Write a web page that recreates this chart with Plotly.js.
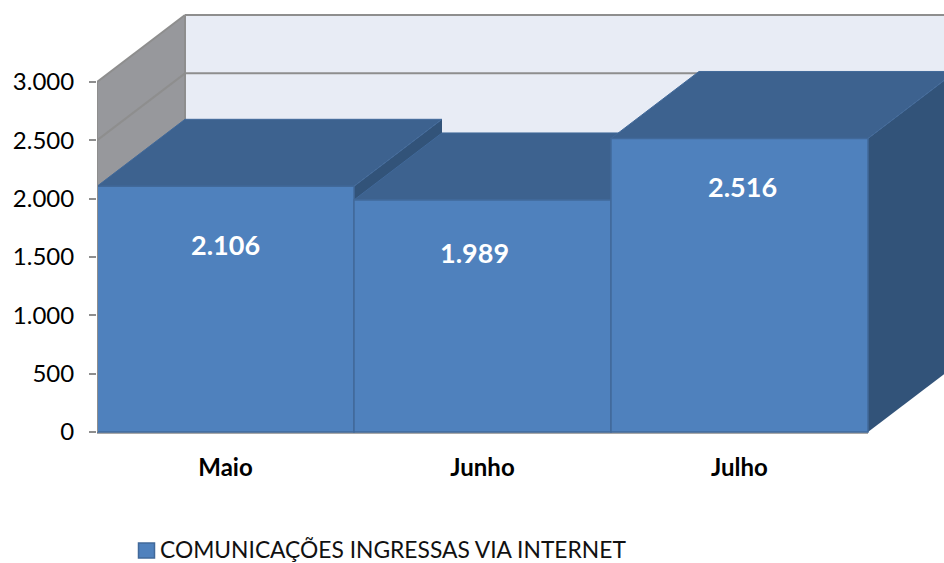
<!DOCTYPE html>
<html>
<head>
<meta charset="utf-8">
<script src="https://cdn.plot.ly/plotly-3.0.1.min.js"></script>
<style>html,body{margin:0;padding:0;background:#fff}#chart{width:944px;height:563px}</style>
</head>
<body>
<div id="chart"></div>
<script>
const categories = ["Maio", "Junho", "Julho"];
const values = [2106, 1989, 2516];
const seriesName = "COMUNICAÇÕES INGRESSAS VIA INTERNET";
const yTickVals = [0, 500, 1000, 1500, 2000, 2500, 3000];
const yTickText = ["0", "500", "1.000", "1.500", "2.000", "2.500", "3.000"];
const valueLabels = ["2.106", "1.989", "2.516"];
const labelShiftX = [0, -8, 3];
const labelShiftY = [-58, -53, -48];
const wallGridVals = [2500, 3000];

const pxPerUnit = 350 / 3000;
const depthX = 88 / 257, depthY = 67 / pxPerUnit;
const xL = -0.5, xR = categories.length - 0.5, yMax = 3000;
const yMin = -4 / pxPerUnit;
const plotH = 436;
const C = {front:"#4f81bd", edge:"#41699a", top:"#3d628f", side:"#325379", wall:"#97989c", back:"#e8ecf5", grid:"#8e8e8e"};
const FONT = "Lato, Carlito, 'Open Sans', sans-serif";
const px = v => (v - 97) / 847, py = v => (plotH - v) / plotH;

function poly(pts, fill, line) {
  return {type:"path", xref:"x", yref:"y", layer:"below",
    path: "M" + pts.map(p => p[0] + "," + p[1]).join("L") + "Z",
    fillcolor: fill, line: line ? {color: line, width: 1} : {width: 0}};
}
function seg(x0, y0, x1, y1, w) {
  return {type:"line", xref:"x", yref:"y", layer:"below", x0, y0, x1, y1, line:{color:C.grid, width:w || 2}};
}
function barFaces(i) {
  const l = i - 0.5, r = i + 0.5, v = values[i];
  return [
    poly([[r,0],[r,v],[r+depthX,v+depthY],[r+depthX,depthY]], C.side),
    poly([[l,v],[r,v],[r+depthX,v+depthY],[l+depthX,v+depthY]], C.top, C.edge)
  ];
}
const shapes = [
  poly([[xL+depthX,depthY],[xR+depthX,depthY],[xR+depthX,yMax+depthY],[xL+depthX,yMax+depthY]], C.back),
  poly([[xL,0],[xL,yMax],[xL+depthX,yMax+depthY],[xL+depthX,depthY]], C.wall),
  seg(xL+depthX, depthY, xL+depthX, yMax+depthY)
];
wallGridVals.forEach(v => {
  shapes.push(seg(xL, v, xL+depthX, v+depthY));
  shapes.push(seg(xL+depthX, v+depthY, xR+depthX, v+depthY));
});
[0, 1, 2].forEach(i => shapes.push(...barFaces(i)));
shapes.push({type:"line", xref:"x", yref:"y", layer:"above", x0:xL, x1:xL, y0:0, y1:yMax, line:{color:C.grid, width:2}});
shapes.push({type:"line", xref:"x", yref:"y", layer:"below", x0:xL, x1:xR, y0:-1/pxPerUnit, y1:-1/pxPerUnit, line:{color:"#a8a8a8", width:2}});
// legend key
shapes.push({type:"rect", xref:"paper", yref:"paper", x0:px(138.5), x1:px(154.5), y0:py(558), y1:py(543), fillcolor:C.front, line:{color:C.edge, width:1.5}});

const trace = {
  type:"bar", x:categories.map((c,i)=>i), y:values, width:1, name:seriesName,
  marker:{color:C.front, line:{color:C.edge, width:1.5}}, cliponaxis:false,
  hoverinfo:"x+y"
};
const annotations = values.map((v,i)=>({x:i, y:v, xshift:labelShiftX[i], yshift:labelShiftY[i], xref:"x", yref:"y",
  text:"<b>"+valueLabels[i]+"</b>", showarrow:false, font:{family:FONT, size:27, color:"#fff"}}));
annotations.push({xref:"paper", yref:"paper", x:px(158), y:py(549), xanchor:"left", yanchor:"middle", text:seriesName, showarrow:false,
  font:{family:FONT, size:22.8, color:"#111"}});
const layout = {
  width:944, height:563, autosize:false,
  margin:{l:97, r:0, t:0, b:563-plotH, pad:0},
  paper_bgcolor:"#fff", plot_bgcolor:"rgba(0,0,0,0)",
  font:{family:FONT, color:"#000"},
  showlegend:false,
  xaxis:{type:"linear", range:[xL, xL + 847/257], tickmode:"array", tickvals:[0,1,2], ticktext:categories.map(c=>"<b>"+c+"</b>"),
    ticks:"", showgrid:false, zeroline:false, showline:false, tickfont:{family:FONT, size:24, color:"#000"}, ticklabelstandoff:15},
  yaxis:{range:[yMin, yMin + plotH/pxPerUnit], tickmode:"array", tickvals:yTickVals, ticktext:yTickText, ticks:"outside", ticklen:7, tickwidth:2, tickcolor:C.grid,
    showgrid:false, zeroline:false, showline:false, tickfont:{family:FONT, size:24, color:"#000"}, ticklabelstandoff:10},
  shapes:shapes,
  annotations:annotations
};
Plotly.newPlot("chart", [trace], layout, {displayModeBar:false, staticPlot:true});
</script>
</body>
</html>
